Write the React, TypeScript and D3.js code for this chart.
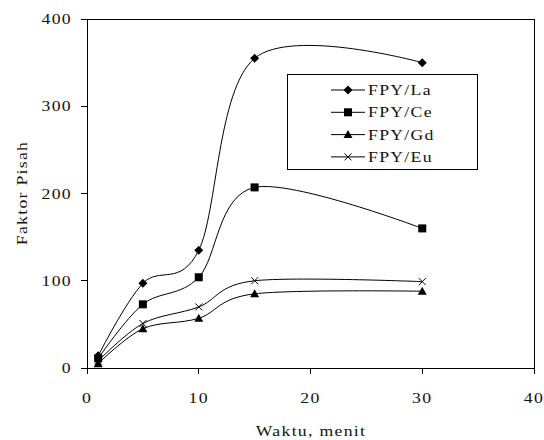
import React from "react";
import * as d3 from "d3";

const times = [1, 5, 10, 15, 30];
const seriesNames = ["FPY/La", "FPY/Ce", "FPY/Gd", "FPY/Eu"];
const laValues = [14, 97, 135, 355, 350];
const ceValues = [11, 73, 104, 207, 160];
const gdValues = [5, 45, 57, 85, 88];
const euValues = [8, 51, 70, 100, 99];
const xTicks = [0, 10, 20, 30, 40];
const yTicks = [0, 100, 200, 300, 400];
const xTitle = "Waktu, menit";
const yTitle = "Faktor Pisah";

const W = 544;
const H = 440;
const left = 87;
const right = 534;
const top = 19;
const bottom = 368;
const FONT = "'Liberation Serif', 'Times New Roman', serif";
const SX = 1.18;

const x = d3.scaleLinear().domain([0, 40]).range([left, right]);
const y = d3.scaleLinear().domain([0, 400]).range([bottom, top]);

const line = d3
  .line<number>()
  .x((_, i) => x(times[i]))
  .y((d) => y(d))
  .curve(d3.curveCardinal.tension(0));

type MarkerKind = "diamond" | "square" | "triangle" | "cross";

function Marker({ kind, cx, cy }: { kind: MarkerKind; cx: number; cy: number }) {
  if (kind === "diamond") {
    const r = 4.5;
    return <path d={`M${cx},${cy - r}L${cx + r},${cy}L${cx},${cy + r}L${cx - r},${cy}Z`} fill="#000" />;
  }
  if (kind === "square") {
    const r = 4;
    return <rect x={cx - r} y={cy - r} width={2 * r} height={2 * r} fill="#000" />;
  }
  if (kind === "triangle") {
    const r = 4.5;
    return <path d={`M${cx},${cy - r}L${cx + r},${cy + r - 1}L${cx - r},${cy + r - 1}Z`} fill="#000" />;
  }
  const r = 3.5;
  return (
    <path
      d={`M${cx - r},${cy - r}L${cx + r},${cy + r}M${cx - r},${cy + r}L${cx + r},${cy - r}`}
      stroke="#000"
      strokeWidth={1}
      fill="none"
    />
  );
}

const series: { name: string; values: number[]; kind: MarkerKind }[] = [
  { name: seriesNames[0], values: laValues, kind: "diamond" },
  { name: seriesNames[1], values: ceValues, kind: "square" },
  { name: seriesNames[2], values: gdValues, kind: "triangle" },
  { name: seriesNames[3], values: euValues, kind: "cross" },
];

function SText({
  tx,
  ty,
  anchor,
  children,
  rotate = 0,
}: {
  tx: number;
  ty: number;
  anchor: "start" | "middle" | "end";
  children: React.ReactNode;
  rotate?: number;
}) {
  return (
    <text
      transform={`translate(${tx},${ty}) rotate(${rotate}) scale(${SX},1)`}
      textAnchor={anchor}
      fontFamily={FONT}
      fontSize={15}
      letterSpacing={1.1}
      fill="#111"
    >
      {children}
    </text>
  );
}

export default function App() {
  const legX = 287;
  const legY = 74;
  const legW = 190;
  const legH = 95;
  const rowY = (i: number) => 90 + i * 22.3;
  return (
    <svg
      width={W}
      height={H}
      style={{ position: "absolute", left: 0, top: 0, background: "#fff" }}
    >
      <rect x={0} y={0} width={W} height={H} fill="#fff" />
      {/* plot frame */}
      <rect x={left} y={top} width={right - left} height={bottom - top} fill="none" stroke="#000" strokeWidth={1} shapeRendering="crispEdges" />
      {/* y ticks */}
      {yTicks.map((t) => (
        <g key={"y" + t}>
          <line x1={left - 6} x2={left} y1={y(t)} y2={y(t)} stroke="#000" shapeRendering="crispEdges" />
          <SText tx={left - 15} ty={y(t) + 5} anchor="end">
            {t}
          </SText>
        </g>
      ))}
      {/* x ticks */}
      {xTicks.map((t) => (
        <g key={"x" + t}>
          <line x1={x(t)} x2={x(t)} y1={bottom} y2={bottom + 6} stroke="#000" shapeRendering="crispEdges" />
          <SText tx={x(t)} ty={bottom + 35} anchor="middle">
            {t}
          </SText>
        </g>
      ))}
      <SText tx={311} ty={436} anchor="middle">
        {xTitle}
      </SText>
      <SText tx={27} ty={193} anchor="middle" rotate={-90}>
        {yTitle}
      </SText>
      {/* series */}
      {series.map((s) => (
        <g key={s.name}>
          <path d={line(s.values) || ""} fill="none" stroke="#000" strokeWidth={1} />
          {s.values.map((v, i) => (
            <Marker key={i} kind={s.kind} cx={x(times[i])} cy={y(v)} />
          ))}
        </g>
      ))}
      {/* legend */}
      <rect x={legX} y={legY} width={legW} height={legH} fill="#fff" stroke="#000" strokeWidth={1} shapeRendering="crispEdges" />
      {series.map((s, i) => (
        <g key={"leg" + s.name}>
          <line x1={331} x2={365} y1={rowY(i)} y2={rowY(i)} stroke="#000" />
          <Marker kind={s.kind} cx={348} cy={rowY(i)} />
          <SText tx={368} ty={rowY(i) + 5} anchor="start">
            {s.name}
          </SText>
        </g>
      ))}
    </svg>
  );
}
